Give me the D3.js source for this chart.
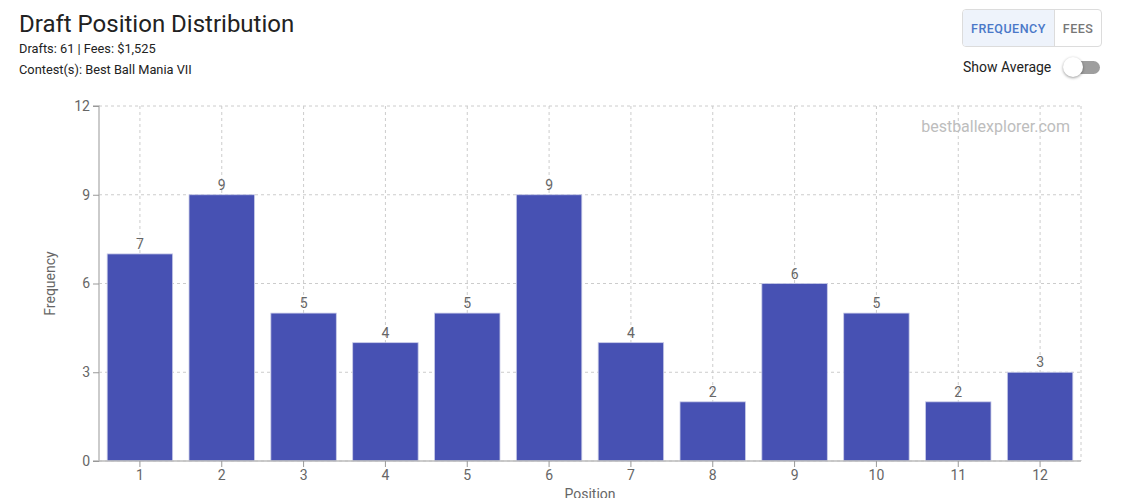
<!DOCTYPE html>
<html>
<head>
<meta charset="utf-8">
<script src="https://cdn.jsdelivr.net/npm/d3@7"></script>
<style>
    body { margin: 0; background: #fff; font-family: Roboto, sans-serif; overflow: hidden; }
    .title { position: absolute; left: 19px; top: 10px; font-size: 24px; color: #222; }
    .sub { position: absolute; left: 19px; font-size: 12.8px; color: #222; }
    .toggle { position: absolute; left: 962px; top: 9px; height: 36px; border: 1px solid #dcdcdc; border-radius: 4px; display: flex; overflow: hidden; font-size: 12.5px; font-weight: 500; letter-spacing: 0.5px; }
    .toggle div { display: flex; align-items: center; padding: 0 8px; }
    .toggle .on { background: #eef3fb; color: #4a78c8; border-right: 1px solid #dcdcdc; }
    .toggle .off { color: #777; }
    .avg { position: absolute; left: 963px; top: 59px; font-size: 14px; color: #222; }
    .track { position: absolute; left: 1066px; top: 61px; width: 34px; height: 13px; border-radius: 7px; background: #9e9e9e; }
    .knob { position: absolute; left: 1063px; top: 57px; width: 20px; height: 20px; border-radius: 50%; background: #fff; box-shadow: 0 1px 3px rgba(0,0,0,0.4); }
</style>
</head>
<body>
<div class="title">Draft Position Distribution</div>
<div class="sub" style="top:41px">Drafts: 61 | Fees: $1,525</div>
<div class="sub" style="top:62px">Contest(s): Best Ball Mania VII</div>
<div class="toggle"><div class="on">FREQUENCY</div><div class="off">FEES</div></div>
<div class="avg">Show Average</div>
<div class="track"></div>
<div class="knob"></div>
<svg id="chart" width="1132" height="498" style="position:absolute;left:0;top:0"></svg>
<script>
// bar data
const positions = ['1', '2', '3', '4', '5', '6', '7', '8', '9', '10', '11', '12'];
const frequency = [7, 9, 5, 4, 5, 9, 4, 2, 6, 5, 2, 3];
const yTicks = [0, 3, 6, 9, 12];

const margin = { left: 99, right: 51, top: 106, bottom: 37 };
const width = 1132 - margin.left - margin.right;
const height = 498 - margin.top - margin.bottom;
const barColor = '#4751b3';

let svg = d3.select('#chart');
let g = svg.append('g').attr('transform', `translate(${margin.left},${margin.top})`);

let x = d3.scaleBand().domain(positions).range([0, width]).paddingInner(0.2).paddingOuter(0.1);
let y = d3.scaleLinear().domain([0, 12]).range([height, 0]);

// grid
g.selectAll('line.hgrid')
    .data(yTicks)
    .enter()
    .append('line')
    .attr('x1', 0)
    .attr('x2', width)
    .attr('y1', (d) => y(d))
    .attr('y2', (d) => y(d))
    .attr('stroke', '#ccc')
    .attr('stroke-dasharray', '3 3');
g.selectAll('line.vgrid')
    .data(positions)
    .enter()
    .append('line')
    .attr('x1', (d) => x(d) + x.bandwidth() / 2)
    .attr('x2', (d) => x(d) + x.bandwidth() / 2)
    .attr('y1', 0)
    .attr('y2', height)
    .attr('stroke', '#ccc')
    .attr('stroke-dasharray', '3 3');
g.append('line')
    .attr('x1', width).attr('x2', width)
    .attr('y1', 0).attr('y2', height)
    .attr('stroke', '#ccc')
    .attr('stroke-dasharray', '3 3');

// watermark
g.append('text')
    .attr('x', width - 11)
    .attr('y', 26)
    .attr('text-anchor', 'end')
    .attr('font-size', '16px')
    .attr('fill', '#bdbdbd')
    .text('bestballexplorer.com');

// bars
g.selectAll('rect.bar')
    .data(frequency)
    .enter()
    .append('rect')
    .attr('x', (d, i) => x(positions[i]))
    .attr('y', (d) => y(d))
    .attr('width', x.bandwidth())
    .attr('height', (d) => height - y(d))
    .attr('fill', barColor)
    .attr('stroke', '#c9cce8')
    .attr('stroke-width', 0.8);

g.selectAll('text.val')
    .data(frequency)
    .enter()
    .append('text')
    .attr('x', (d, i) => x(positions[i]) + x.bandwidth() / 2)
    .attr('y', (d) => y(d) - 5)
    .attr('text-anchor', 'middle')
    .attr('font-size', '14px')
    .attr('fill', '#666')
    .text((d) => d);

// axes
let yAxis = g.append('g').call(d3.axisLeft(y).tickValues(yTicks).tickSize(6).tickPadding(3));
let xAxis = g.append('g').attr('transform', `translate(0,${height})`)
    .call(d3.axisBottom(x).tickSize(6).tickPadding(3));
[xAxis, yAxis].forEach((a) => {
    a.select('.domain').attr('stroke', '#bbb').attr('stroke-width', 1.5);
    a.selectAll('.tick line').attr('stroke', '#999');
    a.selectAll('.tick text').attr('fill', '#666').attr('font-size', '14px').attr('font-family', 'Roboto, sans-serif');
});
yAxis.select('.domain').attr('d', `M-6,0H0V${height}H-6`);
xAxis.select('.domain').attr('d', `M0,0H${width}`);

// axis labels
g.append('text')
    .attr('transform', `translate(-44,${height / 2}) rotate(-90)`)
    .attr('text-anchor', 'middle')
    .attr('font-size', '14px')
    .attr('fill', '#666')
    .text('Frequency');
g.append('text')
    .attr('x', width / 2)
    .attr('y', height + 38)
    .attr('text-anchor', 'middle')
    .attr('font-size', '14px')
    .attr('fill', '#666')
    .text('Position');
</script>
</body>
</html>
